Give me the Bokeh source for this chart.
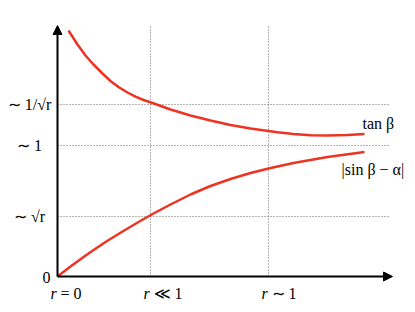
from bokeh.plotting import figure
from bokeh.models import Arrow, NormalHead, Range1d
from bokeh.core.properties import value
from bokeh.embed import file_html
from bokeh.resources import INLINE

# ---- data (schematic) ----
r_vals = [0, 93, 211]                       # x tick positions
r_prefix = ["r", "r", "r"]
r_suffix = ["= 0", "≪ 1", "∼ 1"]

y_ticks = [60, 131, 172]                    # ~sqrt(r), ~1, ~1/sqrt(r)
y_labels = ["∼ √r", "∼ 1", "∼ 1/√r"]

tan_x = [11, 20, 28, 36, 45, 53, 61, 70, 78, 86, 95, 102, 113, 133, 153, 173,
         193, 211, 220, 236, 253, 270, 290, 307]
tan_y = [246, 232, 221, 212, 203, 195.5, 189.5, 184, 179.8, 176.5, 173.5, 171,
         167, 161, 156, 151.5, 148, 145.5, 144.3, 142.5, 141.3, 141, 141.5, 142.5]

sin_x = [0, 15, 31, 48, 65, 81, 96, 113, 133, 153, 173, 193, 211, 236, 270, 307]
sin_y = [0, 11.5, 23, 34.5, 45, 54.5, 63, 72, 82, 90.5, 97.5, 103.5, 108, 113.5,
         119.5, 124.5]

curve_labels = ["tan β", "|sin β − α|"]

# ---- layout ----
X_END = 335
Y_END = 251
GRID_X_END = 331
RED = "#ee3322"
FONT = value("'Liberation Serif', 'Times New Roman', serif")

p = figure(width=415, height=312, output_backend="svg", toolbar_location=None,
           x_range=Range1d(-57, 358), y_range=Range1d(-36, 276),
           x_axis_type=None, y_axis_type=None, min_border=0)
p.outline_line_color = None
p.grid.visible = False

# dotted guide lines
p.segment(x0=[0] * len(y_ticks), y0=y_ticks, x1=[GRID_X_END] * len(y_ticks), y1=y_ticks,
          line_color="#666666", line_dash="1 2", line_width=1)
p.segment(x0=r_vals[1:], y0=[0] * 2, x1=r_vals[1:], y1=[Y_END] * 2,
          line_color="#666666", line_dash="1 2", line_width=1)

# curves
p.line(tan_x, tan_y, line_color=RED, line_width=2.5)
p.line(sin_x, sin_y, line_color=RED, line_width=2.5)

# axes with arrowheads
for (x1, y1) in [(X_END, 0), (0, Y_END)]:
    p.add_layout(Arrow(end=NormalHead(size=9, fill_color="black", line_color="black"),
                       x_start=0, y_start=0, x_end=x1, y_end=y1,
                       line_color="black", line_width=2))

# x tick labels
p.text(x=r_vals, y=[0] * 3, text=r_prefix, text_font=FONT, text_font_size="16px",
       text_font_style="italic", text_align="left", text_baseline="middle",
       x_offset=-7, y_offset=17)
p.text(x=r_vals, y=[0] * 3, text=r_suffix, text_font=FONT, text_font_size="16px",
       text_align="left", text_baseline="middle", x_offset=3, y_offset=17)

# y tick labels
p.text(x=[0] * 3, y=y_ticks, text=y_labels, text_font=FONT, text_font_size="16px",
       text_align="center", text_baseline="middle", x_offset=-28)
p.text(x=[0], y=[0], text=["0"], text_font=FONT, text_font_size="16px",
       text_align="center", text_baseline="middle", x_offset=-11, y_offset=1)

# curve labels
p.text(x=[tan_x[-1], sin_x[-1]], y=[tan_y[-1], sin_y[-1]], text=curve_labels,
       text_font=FONT, text_font_size="16px", text_align="left",
       text_baseline="middle", x_offset=[-2, -23], y_offset=[-11, 17])

open("out.html", "w").write(file_html(p, INLINE))
